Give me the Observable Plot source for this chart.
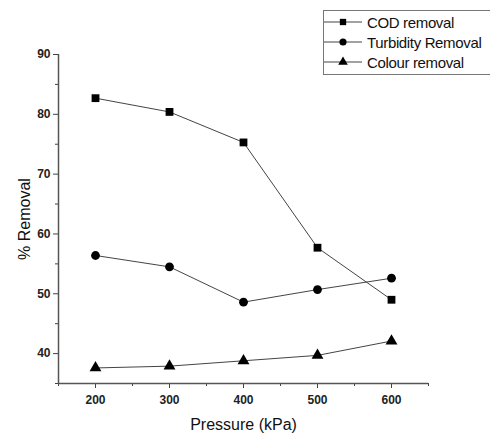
<!DOCTYPE html>
<html>
<head>
<meta charset="utf-8">
<script src="https://cdn.jsdelivr.net/npm/d3@7"></script>
<script src="https://cdn.jsdelivr.net/npm/@observablehq/plot@0.6"></script>
<style>
  html, body { margin: 0; padding: 0; background: #fff; }
  #wrap { position: relative; width: 490px; height: 436px; overflow: hidden; font-family: "Liberation Sans", Arial, sans-serif; }
  #legend { position: absolute; left: 323px; top: 10px; width: 200px; height: 65px; border: 1px solid #777; box-sizing: border-box; background: #fff; }
  .li { position: absolute; left: 0; height: 20px; display: flex; align-items: center; }
  .li svg { display: block; }
  .li span { font-size: 15px; letter-spacing: -0.35px; color: #111; margin-left: 3px; white-space: nowrap; }
</style>
</head>
<body>
<div id="wrap"><div id="chart"></div><div id="legend"></div></div>
<script>
const pressure = [200, 300, 400, 500, 600];
const codRemoval = [82.7, 80.4, 75.3, 57.7, 49.0];
const turbidityRemoval = [56.4, 54.5, 48.6, 50.7, 52.6];
const colourRemoval = [37.6, 37.9, 38.8, 39.7, 42.1];
const seriesNames = ["COD removal", "Turbidity Removal", "Colour removal"];
const seriesSymbols = ["square", "circle", "triangle"];
const xMajorTicks = [200, 300, 400, 500, 600];
const xMinorTicks = [150, 250, 350, 450, 550, 650];
const yMajorTicks = [40, 50, 60, 70, 80, 90];
const yMinorTicks = [35, 45, 55, 65, 75, 85];

const seriesValues = [codRemoval, turbidityRemoval, colourRemoval];
const data = seriesValues.flatMap((vals, i) =>
  vals.map((v, j) => ({ series: seriesNames[i], symbol: seriesSymbols[i], x: pressure[j], y: v }))
);

const tickFont = { fontSize: 12, fontWeight: "bold", fill: "#222" };

const chart = Plot.plot({
  width: 490,
  height: 436,
  marginLeft: 58,
  marginRight: 62,
  marginTop: 54,
  marginBottom: 53,
  style: { fontFamily: "Liberation Sans, Arial, sans-serif", background: "#fff", color: "#222" },
  x: { domain: [150, 650] },
  y: { domain: [35, 90] },
  marks: [
    Plot.axisX(xMinorTicks, { tickSize: 3, tickFormat: () => "", stroke: "#444", label: null }),
    Plot.axisX(xMajorTicks, { tickSize: 5, tickPadding: 7, stroke: "#444", ...tickFont,
      label: "Pressure (kPa)", labelAnchor: "center", labelArrow: "none", labelOffset: 46 }),
    Plot.axisY(yMinorTicks, { tickSize: 3, tickFormat: () => "", stroke: "#444", label: null }),
    Plot.axisY(yMajorTicks, { tickSize: 5, tickPadding: 3, stroke: "#444", ...tickFont,
      label: "% Removal", labelAnchor: "center", labelArrow: "none", labelOffset: 40 }),
    Plot.ruleX([150], { stroke: "#555", strokeWidth: 1.5 }),
    Plot.ruleY([35], { stroke: "#555", strokeWidth: 1.5 }),
    Plot.line(data, { x: "x", y: "y", z: "series", stroke: "#444", strokeWidth: 1 }),
    Plot.dot(data, { x: "x", y: "y", symbol: "symbol", fill: "#000", stroke: "none", r: 4.4 })
  ],
  symbol: { type: "identity" }
});

document.getElementById("chart").appendChild(chart);

// style axis labels
d3.select(chart).selectAll("g[aria-label='x-axis label'] text, g[aria-label='y-axis label'] text")
  .style("font-size", "16px").style("font-weight", "normal").style("fill", "#111");

// legend
const legend = document.getElementById("legend");
seriesNames.forEach((name, i) => {
  const row = document.createElement("div");
  row.className = "li";
  row.style.top = (1 + i * 20) + "px";
  const s = d3.create("svg").attr("width", 40).attr("height", 20);
  s.append("line").attr("x1", 0).attr("x2", 38).attr("y1", 10).attr("y2", 10).attr("stroke", "#444");
  s.append("path").attr("transform", "translate(19,10)")
    .attr("d", d3.symbol(i === 0 ? d3.symbolSquare : i === 1 ? d3.symbolCircle : d3.symbolTriangle, 40)())
    .attr("fill", "#000");
  row.appendChild(s.node());
  const t = document.createElement("span");
  t.textContent = name;
  row.appendChild(t);
  legend.appendChild(row);
});
</script>
</body>
</html>
